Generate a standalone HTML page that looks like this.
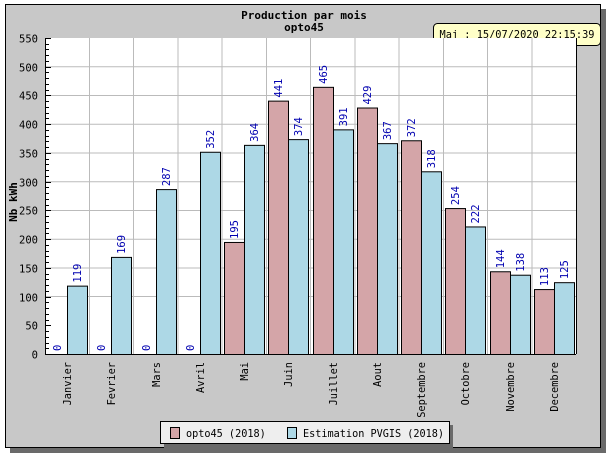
<!DOCTYPE html>
<html><head><meta charset="utf-8"><style>
html,body{margin:0;padding:0;background:#fff;width:612px;height:456px;overflow:hidden}
svg{display:block}
text{font-family:"DejaVu Sans Mono","Liberation Mono",monospace}
</style></head><body>
<svg width="612" height="456" viewBox="0 0 612 456" xmlns="http://www.w3.org/2000/svg">
<rect x="10" y="9" width="596" height="444" fill="#6a6a6a"/>
<rect x="5.5" y="4.5" width="595" height="443" fill="#c8c8c8" stroke="#000"/>
<text x="304" y="19" font-size="11" font-weight="bold" text-anchor="middle">Production par mois</text>
<text x="304" y="31" font-size="11" font-weight="bold" text-anchor="middle">opto45</text>
<rect x="433.5" y="23.5" width="167" height="22" rx="4" fill="#ffffc8" stroke="#000"/>
<text x="517" y="38" font-size="10.3" text-anchor="middle">Maj : 15/07/2020 22:15:39</text>
<rect x="45" y="38" width="531" height="316" fill="#fff"/>
<g stroke="#bbb" stroke-width="1">
<line x1="45" y1="296.5" x2="576" y2="296.5"/><line x1="45" y1="268" x2="576" y2="268"/><line x1="45" y1="239.3" x2="576" y2="239.3"/><line x1="45" y1="210.5" x2="576" y2="210.5"/><line x1="45" y1="181.8" x2="576" y2="181.8"/><line x1="45" y1="153" x2="576" y2="153"/><line x1="45" y1="124.2" x2="576" y2="124.2"/><line x1="45" y1="95.5" x2="576" y2="95.5"/><line x1="45" y1="66.7" x2="576" y2="66.7"/>
<line x1="89.5" y1="38" x2="89.5" y2="354"/><line x1="133.5" y1="38" x2="133.5" y2="354"/><line x1="178" y1="38" x2="178" y2="354"/><line x1="222" y1="38" x2="222" y2="354"/><line x1="266.5" y1="38" x2="266.5" y2="354"/><line x1="310.5" y1="38" x2="310.5" y2="354"/><line x1="355" y1="38" x2="355" y2="354"/><line x1="399" y1="38" x2="399" y2="354"/><line x1="443.5" y1="38" x2="443.5" y2="354"/><line x1="487.5" y1="38" x2="487.5" y2="354"/><line x1="532" y1="38" x2="532" y2="354"/>
</g>
<g id="bars" stroke="#000" stroke-width="1"></g>
<g id="vals" fill="#0000b0" font-size="10.5"></g>
<g id="months" fill="#000" font-size="10.3"></g>
<g id="axis"></g>
<rect x="164" y="425" width="289" height="23" fill="#6a6a6a"/>
<rect x="160.5" y="421.5" width="289" height="22" fill="#eee" stroke="#000"/>
<rect x="170.5" y="427.5" width="9" height="11" fill="#d4a5a8" stroke="#000"/>
<text x="186" y="437" font-size="10.2">opto45 (2018)</text>
<rect x="287.5" y="427.5" width="9" height="11" fill="#add8e6" stroke="#000"/>
<text x="303" y="437" font-size="10.2">Estimation PVGIS (2018)</text>
<text transform="translate(17,202) rotate(-90)" font-size="11" font-weight="bold" text-anchor="middle">Nb kWh</text>
<script>
var ns="http://www.w3.org/2000/svg";
function el(p,t,a,txt){var e=document.createElementNS(ns,t);for(var k in a)e.setAttribute(k,a[k]);if(txt!==undefined)e.textContent=txt;p.appendChild(e);return e;}
var red=[0,0,0,0,195,441,465,429,372,254,144,113],blue=[119,169,287,352,364,374,391,367,318,222,138,125];
var m=["Janvier","Fevrier","Mars","Avril","Mai","Juin","Juillet","Aout","Septembre","Octobre","Novembre","Decembre"];
var Y=function(v){return 354-v*316/550;};
var bars=document.getElementById("bars"),vals=document.getElementById("vals"),mon=document.getElementById("months"),ax=document.getElementById("axis");
for(var i=0;i<12;i++){var c=Math.round(45+44.25*i+22.1);
 if(red[i]>0)el(bars,"rect",{x:c-20+0.5,y:Y(red[i])+0.5,width:20,height:354-Y(red[i]),fill:"#d4a5a8"});
 el(bars,"rect",{x:c+0.5,y:Y(blue[i])+0.5,width:20,height:354-Y(blue[i]),fill:"#add8e6"});
 var ty=Y(red[i])-3;el(vals,"text",{transform:"translate("+(c-6)+","+ty+") rotate(-90)"},String(red[i]));
 ty=Y(blue[i])-3;el(vals,"text",{transform:"translate("+(c+14)+","+ty+") rotate(-90)"},String(blue[i]));
 el(mon,"text",{transform:"translate("+(c+4)+",362) rotate(-90)","text-anchor":"end"},m[i]);
}
el(ax,"line",{x1:45.5,y1:38,x2:45.5,y2:354,stroke:"#000"});
el(ax,"line",{x1:45,y1:354.5,x2:576,y2:354.5,stroke:"#000"});
el(ax,"line",{x1:576.5,y1:38,x2:576.5,y2:354,stroke:"#000"});
for(var v=0;v<=550;v+=10){var y=Math.round(Y(v))+0.5;el(ax,"line",{x1:45,y1:y,x2:v%50?49:51,y2:y,stroke:"#000"});
 if(v%50==0)el(ax,"text",{x:38,y:y+4,"font-size":"10.5","text-anchor":"end",fill:"#000"},String(v));}
</script>
</svg>
</body></html>
